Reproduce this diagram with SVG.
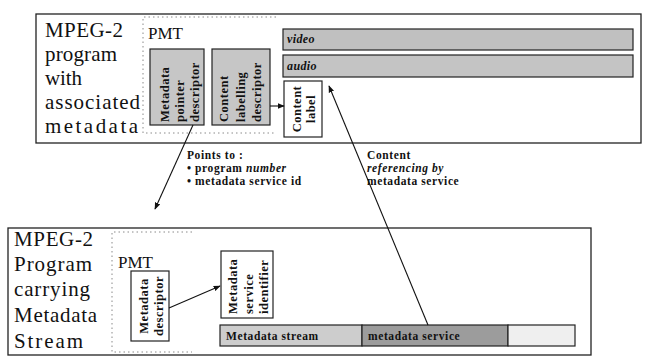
<svg xmlns="http://www.w3.org/2000/svg" width="645" height="360" viewBox="0 0 645 360">
<defs>
<marker id="ah" viewBox="0 0 10 10" refX="9" refY="5" markerWidth="7" markerHeight="7" orient="auto" markerUnits="userSpaceOnUse">
<path d="M0,1 L10,5 L0,9 Z" fill="#111"/>
</marker>
<style>
text{font-family:'Liberation Serif','Times New Roman','DejaVu Serif',serif;fill:#111}
.frame{fill:#fff;stroke:#222;stroke-width:1.3}
.big{font-size:21px}
.pmt{font-size:17px}
.dots{fill:none;stroke:#8a8a8a;stroke-width:1;stroke-dasharray:1.5 3}
.box{stroke:#222;stroke-width:1.2}
.gray{fill:#c6c6c6}
.white{fill:#fff}
.rt{font-size:12.5px;font-weight:bold;letter-spacing:0.5px}
.bar{font-size:12px;font-weight:bold;font-style:italic;letter-spacing:0.4px}
.lbl{font-size:11.5px;font-weight:bold;letter-spacing:0.6px}
.conn{fill:none;stroke:#111;stroke-width:1.1;marker-end:url(#ah)}
</style>
</defs>

<g id="program-top">
<rect class="frame" x="36" y="14" width="605" height="129"/>
<text class="big" x="45" y="37" textLength="78" lengthAdjust="spacing">MPEG-2</text>
<text class="big" x="45" y="61" textLength="72" lengthAdjust="spacing">program</text>
<text class="big" x="45" y="85" textLength="37" lengthAdjust="spacing">with</text>
<text class="big" x="45" y="109" textLength="95" lengthAdjust="spacing">associated</text>
<text class="big" x="45" y="133" textLength="93" lengthAdjust="spacing">metadata</text>
</g>

<g id="pmt-top">
<path class="dots" d="M276,17 H143 V133 H276"/>
<text class="pmt" x="148" y="39">PMT</text>
</g>

<g id="metadata-pointer-descriptor">
<rect class="box gray" x="150" y="49" width="54" height="76"/>
<text class="rt" transform="translate(169,122) rotate(-90)">Metadata</text>
<text class="rt" transform="translate(184,122) rotate(-90)">pointer</text>
<text class="rt" transform="translate(199,122) rotate(-90)">descriptor</text>
</g>

<g id="content-labelling-descriptor">
<rect class="box gray" x="212" y="49" width="58" height="76"/>
<text class="rt" transform="translate(228,122) rotate(-90)">Content</text>
<text class="rt" transform="translate(245,122) rotate(-90)">labelling</text>
<text class="rt" transform="translate(261,122) rotate(-90)">descriptor</text>
</g>

<g id="video">
<rect class="box" fill="#c0c0c0" x="283" y="29" width="350" height="21"/>
<text class="bar" x="287" y="43">video</text>
</g>

<g id="audio">
<rect class="box" fill="#c4c4c4" x="283" y="55" width="350" height="22"/>
<text class="bar" x="287" y="70">audio</text>
</g>

<g id="content-label">
<rect class="box white" x="284" y="81" width="38" height="56"/>
<text class="rt" text-anchor="middle" transform="translate(301,109) rotate(-90)">Content</text>
<text class="rt" text-anchor="middle" transform="translate(315,109) rotate(-90)">label</text>
</g>

<g id="program-bottom">
<rect class="frame" x="8" y="228" width="583" height="127"/>
<text class="big" x="14" y="246" textLength="79" lengthAdjust="spacing">MPEG-2</text>
<text class="big" x="14" y="271" textLength="78" lengthAdjust="spacing">Program</text>
<text class="big" x="14" y="296" textLength="76" lengthAdjust="spacing">carrying</text>
<text class="big" x="14" y="322" textLength="83" lengthAdjust="spacing">Metadata</text>
<text class="big" x="14" y="348" textLength="69" lengthAdjust="spacing">Stream</text>
</g>

<g id="pmt-bottom">
<path class="dots" d="M192,232 H112 V352 H192"/>
<text class="pmt" x="118" y="268">PMT</text>
</g>

<g id="metadata-descriptor">
<rect class="box white" x="131" y="271" width="38" height="70"/>
<text class="rt" text-anchor="middle" transform="translate(148,306) rotate(-90)">Metadata</text>
<text class="rt" text-anchor="middle" transform="translate(163,306) rotate(-90)">descriptor</text>
</g>

<g id="metadata-service-identifier">
<rect class="box white" x="221" y="251" width="52" height="67"/>
<text class="rt" transform="translate(237,314) rotate(-90)">Metadata</text>
<text class="rt" transform="translate(253,314) rotate(-90)">service</text>
<text class="rt" transform="translate(268,314) rotate(-90)">identifier</text>
</g>

<g id="metadata-stream">
<rect class="box" fill="#cdcdcd" x="220" y="325" width="142" height="21"/>
<text class="lbl" x="226" y="340">Metadata stream</text>
</g>

<g id="metadata-service">
<rect class="box" fill="#9c9c9c" x="362" y="325" width="146" height="21"/>
<text class="lbl" x="368" y="340">metadata service</text>
</g>

<g id="stream-rest">
<rect class="box" fill="#efefef" x="508" y="325" width="67" height="21"/>
</g>

<g id="labels">
<text class="lbl" x="187" y="159">Points to :</text>
<text class="lbl" x="187" y="172">• program <tspan font-style="italic">number</tspan></text>
<text class="lbl" x="187" y="185">• metadata service id</text>
<text class="lbl" x="367" y="159">Content</text>
<text class="lbl" x="367" y="172" font-style="italic">referencing by</text>
<text class="lbl" x="367" y="185">metadata service</text>
</g>

<g id="connectors">
<line class="conn" x1="270" y1="106" x2="284" y2="106"/>
<line class="conn" x1="193" y1="125" x2="155" y2="209"/>
<line class="conn" x1="428" y1="325" x2="329" y2="86"/>
<line class="conn" x1="169" y1="308" x2="220" y2="286"/>
</g>
</svg>
